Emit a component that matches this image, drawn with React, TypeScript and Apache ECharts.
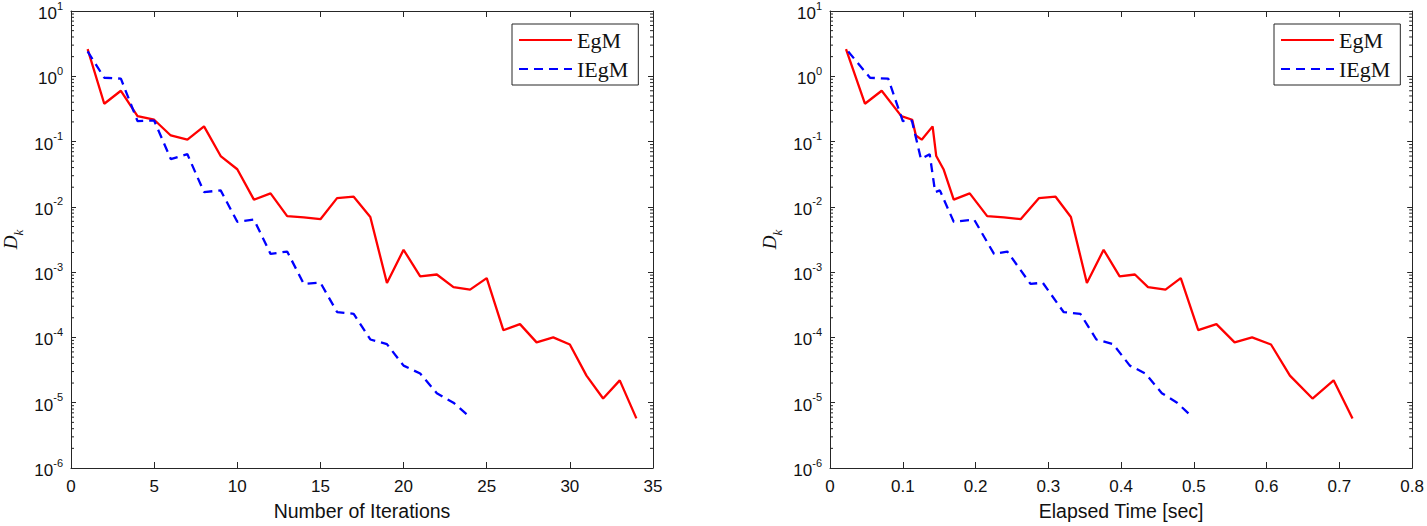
import React, { useEffect, useRef } from "react";
import * as echarts from "echarts";

// ---- data ----
const iterEgM = [1, 2, 3, 4, 5, 6, 7, 8, 9, 10, 11, 12, 13, 14, 15, 16, 17, 18, 19, 20, 21, 22, 23, 24, 25, 26, 27, 28, 29, 30, 31, 32, 33, 34];
const dEgM = [2.6, 0.38, 0.6, 0.245, 0.216, 0.124, 0.107, 0.171, 0.06, 0.0377, 0.0129, 0.0161, 0.0072, 0.0069, 0.00647, 0.0136, 0.0143, 0.007, 6.8e-4, 2.2e-3, 8.6e-4, 9.2e-4, 5.9e-4, 5.4e-4, 8.1e-4, 1.29e-4, 1.6e-4, 8.4e-5, 1.0e-4, 7.8e-5, 2.6e-5, 1.16e-5, 2.2e-5, 5.75e-6];
const timeEgM = [0.022, 0.048, 0.071, 0.098, 0.113, 0.118, 0.126, 0.141, 0.146, 0.156, 0.17, 0.192, 0.216, 0.239, 0.262, 0.287, 0.31, 0.331, 0.353, 0.376, 0.398, 0.419, 0.437, 0.461, 0.482, 0.506, 0.531, 0.556, 0.58, 0.606, 0.632, 0.663, 0.692, 0.718];

const iterIEgM = [1, 2, 3, 4, 5, 6, 7, 8, 9, 10, 11, 12, 13, 14, 15, 16, 17, 18, 19, 20, 21, 22, 23, 24];
const dIEgM = [2.4, 0.95, 0.92, 0.206, 0.21, 0.054, 0.064, 0.0168, 0.0179, 0.0059, 0.0064, 0.0019, 0.00207, 6.6e-4, 6.9e-4, 2.45e-4, 2.3e-4, 9.3e-5, 7.9e-5, 3.7e-5, 2.8e-5, 1.4e-5, 1.0e-5, 6.0e-6];
const timeIEgM = [0.025, 0.055, 0.08, 0.1, 0.1125, 0.125, 0.137, 0.1445, 0.151, 0.17, 0.198, 0.2254, 0.2436, 0.2755, 0.2923, 0.321, 0.344, 0.366, 0.389, 0.412, 0.4335, 0.456, 0.477, 0.498];

const seriesNames = ["EgM", "IEgM"];
const xTitleLeft = "Number of Iterations";
const xTitleRight = "Elapsed Time [sec]";

// ---- styling ----
const AXIS = "#262626";
const TXT = "#111111";
const SANS = "'Liberation Sans', Arial, Helvetica, sans-serif";
const SERIF = "'Liberation Serif', 'Times New Roman', serif";

const minorVals: number[] = [];
for (let e = -6; e <= 0; e++) {
  for (let m = 2; m <= 9; m++) minorVals.push(m * Math.pow(10, e));
}

function logLabel(v: number) {
  const e = Math.round(Math.log10(v));
  return `{b|10}{s|${e}}`;
}

const logRich = {
  b: { fontSize: 17, fontFamily: SANS, color: TXT, lineHeight: 22, verticalAlign: "bottom" },
  s: { fontSize: 11, fontFamily: SANS, color: TXT, lineHeight: 12, verticalAlign: "top" },
};

function makeX(grid: number, max: number, interval: number, name: string) {
  const bottom = {
    gridIndex: grid,
    type: "value",
    min: 0,
    max,
    interval,
    position: "bottom",
    axisLine: { show: true, onZero: false, lineStyle: { color: AXIS, width: 1 } },
    axisTick: { show: true, inside: true, length: 6, lineStyle: { color: AXIS } },
    axisLabel: { show: true, color: TXT, fontSize: 17, fontFamily: SANS, margin: 10 },
    splitLine: { show: false },
    name,
    nameLocation: "middle",
    nameGap: 33,
    nameTextStyle: { color: TXT, fontSize: 19.5, fontFamily: SANS },
  };
  const top = {
    gridIndex: grid,
    type: "value",
    min: 0,
    max,
    interval,
    position: "top",
    axisLine: { show: true, onZero: false, lineStyle: { color: AXIS, width: 1 } },
    axisTick: { show: true, inside: true, length: 6, lineStyle: { color: AXIS } },
    axisLabel: { show: false },
    splitLine: { show: false },
  };
  return [bottom, top];
}

function makeY(grid: number) {
  const left = {
    gridIndex: grid,
    type: "log",
    logBase: 10,
    min: 1e-6,
    max: 10,
    position: "left",
    axisLine: { show: true, onZero: false, lineStyle: { color: AXIS, width: 1 } },
    axisTick: { show: true, inside: true, length: 5, lineStyle: { color: AXIS } },
    axisLabel: { show: true, margin: 8, formatter: logLabel, rich: logRich },
    splitLine: { show: false },
    name: "{d|D}{k|k}",
    nameLocation: "middle",
    nameRotate: 90,
    nameGap: 46,
    nameTextStyle: {
      rich: {
        d: { fontSize: 19, fontFamily: SERIF, fontStyle: "italic", color: TXT, lineHeight: 24, verticalAlign: "top" },
        k: { fontSize: 13, fontFamily: SERIF, fontStyle: "italic", color: TXT, lineHeight: 13, verticalAlign: "bottom" },
      },
    },
  };
  const right = {
    gridIndex: grid,
    type: "log",
    logBase: 10,
    min: 1e-6,
    max: 10,
    position: "right",
    axisLine: { show: true, onZero: false, lineStyle: { color: AXIS, width: 1 } },
    axisTick: { show: true, inside: true, length: 5, lineStyle: { color: AXIS } },
    axisLabel: { show: false },
    splitLine: { show: false },
  };
  return [left, right];
}

function minorSeries(xIdx: number, yIdx: number, xmin: number, xmax: number) {
  return {
    type: "custom",
    xAxisIndex: xIdx,
    yAxisIndex: yIdx,
    silent: true,
    clip: false,
    z: 5,
    data: minorVals.map((v) => [xmin, v]),
    encode: { x: 0, y: 1 },
    renderItem: (_p: any, api: any) => {
      const v = api.value(1);
      const l = api.coord([xmin, v]);
      const r = api.coord([xmax, v]);
      const st = { stroke: AXIS, lineWidth: 1 };
      return {
        type: "group",
        children: [
          { type: "line", shape: { x1: l[0], y1: l[1], x2: l[0] + 3, y2: l[1] }, style: st },
          { type: "line", shape: { x1: r[0] - 3, y1: r[1], x2: r[0], y2: r[1] }, style: st },
        ],
      };
    },
  };
}

function lineSeries(name: string, xs: number[], ys: number[], xIdx: number, yIdx: number, dashed: boolean) {
  return {
    name,
    type: "line",
    xAxisIndex: xIdx,
    yAxisIndex: yIdx,
    symbol: "none",
    z: 3,
    data: xs.map((x, i) => [x, ys[i]]),
    lineStyle: {
      color: dashed ? "#0000ff" : "#ff0000",
      width: 2.3,
      type: dashed ? [9, 6] : "solid",
    },
    itemStyle: { color: dashed ? "#0000ff" : "#ff0000" },
  };
}

function makeLegend(left: number) {
  return {
    data: seriesNames,
    orient: "vertical",
    left,
    top: 24,
    itemWidth: 53,
    itemHeight: 4,
    itemGap: 3,
    padding: [3, 10, 3, 6],
    borderColor: AXIS,
    borderWidth: 1,
    backgroundColor: "#ffffff",
    selectedMode: false,
    itemStyle: { opacity: 0, borderWidth: 0 },
    textStyle: { fontFamily: SERIF, fontSize: 22, color: TXT, lineHeight: 26 },
  };
}

export default function App() {
  const ref = useRef<HTMLDivElement>(null);
  useEffect(() => {
    if (!ref.current) return;
    const chart = echarts.init(ref.current, undefined, { renderer: "svg" });
    const [xl0, xl1] = makeX(0, 35, 5, xTitleLeft);
    const [xr0, xr1] = makeX(1, 0.8, 0.1, xTitleRight);
    const [yl0, yl1] = makeY(0);
    const [yr0, yr1] = makeY(1);
    chart.setOption({
      animation: false,
      backgroundColor: "#ffffff",
      grid: [
        { left: 67, top: 9, width: 586, height: 461, containLabel: false },
        { left: 830, top: 9, width: 585.6, height: 461, containLabel: false },
      ],
      xAxis: [xl0, xl1, xr0, xr1],
      yAxis: [yl0, yl1, yr0, yr1],
      legend: [makeLegend(512), makeLegend(1274)],
      series: [
        lineSeries("EgM", iterEgM, dEgM, 0, 0, false),
        lineSeries("IEgM", iterIEgM, dIEgM, 0, 0, true),
        lineSeries("EgM", timeEgM, dEgM, 2, 2, false),
        lineSeries("IEgM", timeIEgM, dIEgM, 2, 2, true),
        minorSeries(0, 0, 0, 35),
        minorSeries(2, 2, 0, 0.8),
      ],
    });
    return () => chart.dispose();
  }, []);
  return (
    <div
      ref={ref}
      style={{ position: "absolute", left: 0, top: 0, width: 1427, height: 526, background: "#fff" }}
    />
  );
}
